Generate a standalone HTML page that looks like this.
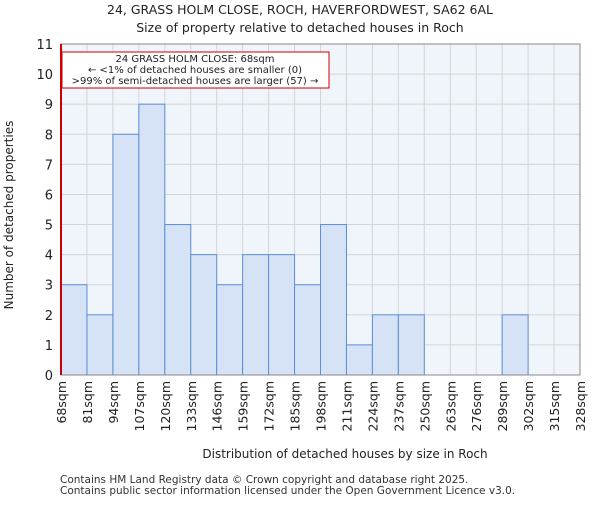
<!DOCTYPE html>
<html><head><meta charset="utf-8"><style>body{margin:0;background:#fff}svg{font-family:"DejaVu Sans","Liberation Sans",sans-serif}</style></head>
<body>
<svg id="c" width="600" height="500" xmlns="http://www.w3.org/2000/svg">
<text x="300" y="14" text-anchor="middle" font-size="12.5" fill="#222">24, GRASS HOLM CLOSE, ROCH, HAVERFORDWEST, SA62 6AL</text>
<text x="300" y="32" text-anchor="middle" font-size="12.5" fill="#222">Size of property relative to detached houses in Roch</text>
<rect x="61" y="44" width="519" height="331" fill="#f0f4fb"/>
<g id="grid"></g><g id="bars"></g><g id="axes"></g>
<text x="345" y="458" text-anchor="middle" font-size="12" fill="#222">Distribution of detached houses by size in Roch</text>
<text transform="translate(13,215) rotate(-90)" text-anchor="middle" font-size="12" fill="#222">Number of detached properties</text>
<text x="60" y="483" font-size="10.5" fill="#333">Contains HM Land Registry data © Crown copyright and database right 2025.</text>
<text x="60" y="494" font-size="10.5" fill="#333">Contains public sector information licensed under the Open Government Licence v3.0.</text>
</svg>
<script>
const labels=["68sqm","81sqm","94sqm","107sqm","120sqm","133sqm","146sqm","159sqm","172sqm","185sqm","198sqm","211sqm","224sqm","237sqm","250sqm","263sqm","276sqm","289sqm","302sqm","315sqm","328sqm"];
const counts=[3,2,8,9,5,4,3,4,4,3,5,1,2,2,0,0,0,2,0,0];
const yTicks=[0,1,2,3,4,5,6,7,8,9,10,11];
const propertyIndex=0;
const X0=61,X1=580,Y0=375,Y1=44,yMax=11;
const bw=(X1-X0)/counts.length;
const xs=i=>X0+i*bw, ys=v=>Y0-(Y0-Y1)*v/yMax;
const NS="http://www.w3.org/2000/svg";
function mk(t,a,p){const e=document.createElementNS(NS,t);for(const k in a)e.setAttribute(k,a[k]);p.appendChild(e);return e;}
const g=document.getElementById('grid'),b=document.getElementById('bars'),ax=document.getElementById('axes');
yTicks.forEach(v=>{const l=mk('line',{x1:X0,x2:X1,y1:ys(v),y2:ys(v),stroke:'#d4d4d4','stroke-width':1},g);

const t=mk('text',{x:X0-8,y:ys(v)+5,'text-anchor':'end','font-size':13,fill:'#222'},ax);t.textContent=v;
});
labels.forEach((s,i)=>{const x=xs(i);const l=mk('line',{x1:x,x2:x,y1:Y1,y2:Y0,stroke:'#d4d4d4','stroke-width':1},g);

const t=mk('text',{transform:`translate(${x+5},381) rotate(-90)`,'text-anchor':'end','font-size':12.5,fill:'#222'},ax);t.textContent=s;
});
counts.forEach((v,i)=>{if(!v)return;const r=mk('rect',{x:xs(i),y:ys(v),width:bw,height:Y0-ys(v),fill:'#d6e2f5',stroke:'#5b8fd6','stroke-width':1},b);
});
const fr=mk('rect',{x:X0,y:Y1,width:X1-X0,height:Y0-Y1,fill:'none',stroke:'#888','stroke-width':1},ax);

const pl=mk('line',{x1:xs(propertyIndex),x2:xs(propertyIndex),y1:Y1,y2:Y0,stroke:'#c00','stroke-width':2},ax);

const bx=mk('rect',{x:62,y:52,width:267,height:36,fill:'#fff',stroke:'#c00','stroke-width':1},ax);

["24 GRASS HOLM CLOSE: 68sqm","← <1% of detached houses are smaller (0)",">99% of semi-detached houses are larger (57) →"].forEach((s,i)=>{
const t=mk('text',{x:195,y:62+i*11,'text-anchor':'middle','font-size':10,fill:'#222'},ax);t.textContent=s;
});
</script>
</body></html>
